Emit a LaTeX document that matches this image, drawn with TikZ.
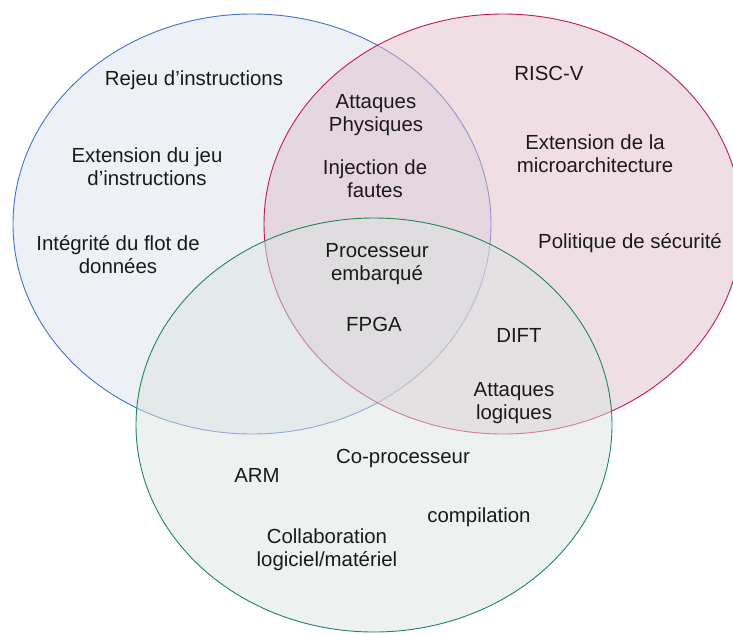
\documentclass[tikz,border=0pt]{standalone}
\usepackage{fontspec}
\setmainfont{Liberation Sans}
\definecolor{blueline}{RGB}{68,114,196}
\definecolor{bluefill}{RGB}{219,225,235}
\definecolor{redline}{RGB}{192,24,90}
\definecolor{redfill}{RGB}{223,191,201}
\definecolor{greenline}{RGB}{30,135,85}
\definecolor{greenfill}{RGB}{219,227,225}
\definecolor{txt}{RGB}{26,26,26}
\tikzset{
  setshape/.style={line width=0.9pt, fill opacity=0.5},
  lbl/.style={align=center, inner sep=0pt, text=txt,
    font=\fontsize{20.4}{23}\selectfont}
}
\begin{document}
\begin{tikzpicture}[x=1pt, y=-1pt]
  \useasboundingbox (0,0) rectangle (733,633);
  \begin{scope}
    \clip (0,0) rectangle (733,633);
    % the three sets, drawn in order so later fills veil earlier outlines
    \path[setshape, draw=blueline, fill=bluefill]
      (252,224) ellipse [x radius=239, y radius=210];
    \path[setshape, draw=redline, fill=redfill]
      (503,224) ellipse [x radius=239, y radius=210];
    \path[setshape, draw=greenline, fill=greenfill]
      (374,425) ellipse [x radius=238, y radius=207];
  \end{scope}
  % labels of the left set
  \node[lbl] (rejeu)   at (194,80)    {Rejeu d’instructions};
  \node[lbl] (extjeu)  at (147,166.5) {Extension du jeu\\d’instructions};
  \node[lbl] (integ)   at (118,254.5) {Intégrité du flot de\\données};
  % left/right overlap
  \node[lbl] (attphys) at (376,115)   {Attaques\\Physiques};
  \node[lbl] (inject)  at (375,178.5) {Injection de\\fautes};
  % centre
  \node[lbl] (proc)    at (377,264)   {Processeur\\embarqué};
  \node[lbl] (fpga)    at (374,324)   {FPGA};
  % labels of the right set
  \node[lbl] (riscv)   at (549,73)    {RISC-V};
  \node[lbl] (extmic)  at (595,154)   {Extension de la\\microarchitecture};
  \node[lbl] (polit)   at (630,243)   {Politique de sécurité};
  % right/bottom overlap
  \node[lbl] (dift)    at (519,335)   {DIFT};
  \node[lbl] (attlog)  at (514,403.5) {Attaques\\logiques};
  % labels of the bottom set
  \node[lbl] (copro)   at (403,458)   {Co-processeur};
  \node[lbl] (arm)     at (257,475)   {ARM};
  \node[lbl] (compil)  at (479,517)   {compilation};
  \node[lbl] (collab)  at (327,549.5) {Collaboration\\logiciel/matériel};
\end{tikzpicture}
\end{document}
